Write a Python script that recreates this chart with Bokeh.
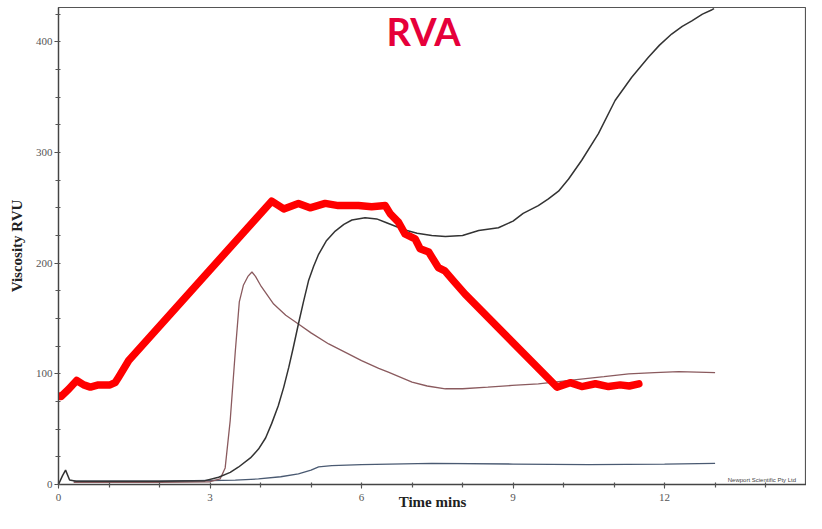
from bokeh.plotting import figure
from bokeh.models import Label, SingleIntervalTicker, Range1d
from bokeh.embed import file_html
from bokeh.resources import INLINE

# Black viscosity curve
time_black = [0.0, 0.08, 0.14, 0.22, 0.35, 1.0, 2.0, 2.9, 3.17, 3.4, 3.56, 3.8, 3.96, 4.1, 4.22,
              4.35, 4.46, 4.56, 4.65, 4.75, 4.85, 4.95, 5.05, 5.15, 5.3, 5.48, 5.65, 5.81, 6.07,
              6.3, 6.47, 6.86, 7.1, 7.39, 7.66, 8.0, 8.32, 8.71, 9.0, 9.2, 9.5, 9.7, 9.9,
              10.1, 10.36, 10.69, 11.02, 11.35, 11.68, 11.9, 12.14, 12.35, 12.54, 12.75,
              12.94, 12.98]
visc_black = [0, 8, 13, 4, 3, 3, 3, 3.5, 6.6, 11, 15.6, 24, 32, 42, 55,
              71, 88, 106, 124, 145, 165, 184, 197, 208, 220, 229, 235, 239, 241,
              240, 237, 230, 227, 225, 224, 225, 229.5, 232, 238, 245, 252, 258, 265,
              276, 293, 317, 347, 368, 386, 397, 407, 414, 419, 425,
              429, 430]

# Brown viscosity curve
time_brown = [0.3, 1.0, 2.0, 3.0, 3.2, 3.3, 3.4, 3.5, 3.58, 3.66, 3.75, 3.83, 3.9, 4.0, 4.26,
              4.5, 4.75, 5.0, 5.35, 5.7, 6.0, 6.34, 6.53, 7.0, 7.3, 7.66, 8.0, 8.5, 8.98, 9.5,
              10.3, 10.8, 11.29, 11.8, 12.28, 13.0]
visc_brown = [2, 2, 2, 2.5, 5, 15, 58, 120, 165, 180, 188, 192, 188, 180, 163,
              153, 145, 137, 127, 119, 112, 105, 101.5, 92.5, 89, 86.5, 86.5, 88, 89.5, 91,
              95, 97.5, 100, 101, 102, 101]

# Blue-grey curve
time_blue = [0.3, 1.0, 2.0, 3.0, 3.5, 3.96, 4.4, 4.75, 5.0, 5.15, 5.41, 6.0, 7.39, 9.0, 10.5, 12.0, 13.0]
visc_blue = [3, 3, 3, 3.6, 4, 5, 7, 9.6, 13, 16, 17, 18, 19, 18.5, 18, 18.5, 19]

# Thick red profile
time_red = [0.0, 0.05, 0.2, 0.36, 0.5, 0.63, 0.79, 1.02, 1.12, 1.19, 1.39, 4.22, 4.46, 4.75,
            4.98, 5.28, 5.54, 5.94, 6.2, 6.47, 6.57, 6.73, 6.86, 7.06, 7.16, 7.33, 7.52, 7.65,
            7.82, 8.05, 9.87, 10.13, 10.36, 10.63, 10.89, 11.12, 11.3, 11.49]
visc_red = [80, 79.5, 86, 94, 90, 88, 90, 90, 92, 97, 112, 256, 249, 254,
            250, 254, 252, 252, 251, 252, 244.5, 237, 226.5, 222, 213, 210, 196, 193,
            184, 172, 88, 92, 88.5, 91, 88.5, 90, 89, 91]

x_ticks_interval = 3
y_ticks_interval = 100

p = figure(width=806, height=513, output_backend="svg", toolbar_location=None,
           x_range=Range1d(0, 14.81), y_range=Range1d(0, 431),
           min_border_left=58, min_border_right=0, min_border_top=7, min_border_bottom=29)
p.xgrid.visible = False
p.ygrid.visible = False
p.outline_line_color = "#555555"
p.outline_line_width = 1.2
p.background_fill_color = "white"
p.border_fill_color = "white"

p.xaxis.ticker = SingleIntervalTicker(interval=x_ticks_interval, num_minor_ticks=3)
p.yaxis.ticker = SingleIntervalTicker(interval=y_ticks_interval, num_minor_ticks=4)

for ax in (p.xaxis, p.yaxis):
    ax.axis_line_color = "#444444"
    ax.axis_line_width = 1.3
    ax.major_tick_line_color = "#444444"
    ax.minor_tick_line_color = "#555555"
    ax.minor_tick_line_width = 1.2
    ax.major_tick_out = 4
    ax.major_tick_in = 0
    ax.minor_tick_out = 3
    ax.minor_tick_in = 2
    ax.major_label_text_font = "Liberation Serif"
    ax.major_label_text_font_size = "11px"
    ax.major_label_text_color = "#555555"
    ax.axis_label_text_font = "Liberation Serif"
    ax.axis_label_text_font_style = "bold"
    ax.axis_label_text_color = "#222222"

p.xaxis.major_label_standoff = 5
p.xaxis.axis_label = "Time mins"
p.xaxis.axis_label_text_font_size = "15px"
p.xaxis.axis_label_standoff = -10
p.yaxis.major_label_standoff = 2
p.yaxis.axis_label = "Viscosity RVU"
p.yaxis.axis_label_text_font_size = "15px"
p.yaxis.axis_label_standoff = 8

p.line(time_blue, visc_blue, line_color="#4a5a72", line_width=1.3)
p.line(time_brown, visc_brown, line_color="#8a5a5e", line_width=1.3)
p.line(time_black, visc_black, line_color="#333333", line_width=1.5)
p.line(time_red, visc_red, line_color="#ff0000", line_width=7.5,
       line_join="round", line_cap="round")

p.add_layout(Label(x=7.23, y=410, text="RVA", text_font="Lato", text_font_style="bold",
                   text_font_size="38px", text_color="#e6003a",
                   text_align="center", text_baseline="middle"))
p.add_layout(Label(x=13.25, y=1.5, text="Newport Scientific Pty Ltd", text_font="Liberation Sans",
                   text_font_size="6px", text_color="#444444",
                   text_align="left", text_baseline="bottom"))

open("out.html", "w").write(file_html(p, INLINE))
